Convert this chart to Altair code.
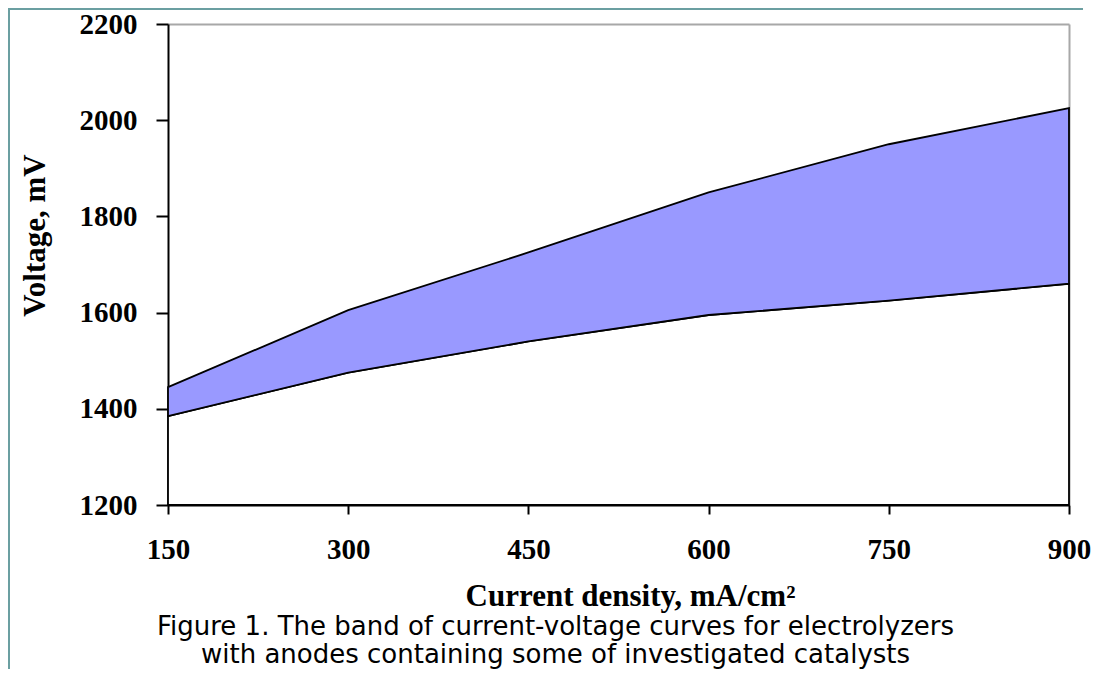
import altair as alt
import pandas as pd

# ---- data ----
current_density = [150, 300, 450, 600, 750, 900]
voltage_upper = [1445, 1605, 1725, 1850, 1950, 2025]
voltage_lower = [1385, 1475, 1540, 1595, 1625, 1660]
x_ticks = [150, 300, 450, 600, 750, 900]
y_ticks = [1200, 1400, 1600, 1800, 2000, 2200]
y_base = 1200

df = pd.DataFrame({
    "cd": current_density,
    "upper": voltage_upper,
    "lower": voltage_lower,
    "base": [y_base] * len(current_density),
})

W, H = 901, 481
SERIF = "Liberation Serif"
x_scale = alt.Scale(domain=[150, 900], nice=False, zero=False)
y_scale = alt.Scale(domain=[1200, 2200], nice=False, zero=False)

x_axis = alt.Axis(
    values=x_ticks, orient="bottom", grid=False, format="d",
    domainColor="black", domainWidth=2, tickColor="black", tickWidth=2, tickSize=9,
    labelFont=SERIF, labelFontWeight="bold", labelFontSize=29, labelColor="black",
    labelPadding=21, labelFlush=False, labelOverlap=False,
    titleFont=SERIF, titleFontWeight="bold", titleFontSize=31, titleColor="black",
    titleX=462, titleY=100, titleBaseline="alphabetic", titleAlign="center",
)
y_axis = alt.Axis(
    values=y_ticks, orient="left", grid=False, format="d",
    domainColor="black", domainWidth=2, tickColor="black", tickWidth=2, tickSize=12,
    labelFont=SERIF, labelFontWeight="bold", labelFontSize=29, labelColor="black",
    labelPadding=19, labelFlush=False, labelOverlap=False,
    titleFont=SERIF, titleFontWeight="bold", titleFontSize=31, titleColor="black",
    titleX=-124, titleY=211, titleAngle=270, titleAlign="center", titleBaseline="alphabetic",
)

base = alt.Chart(df)

lower_area = base.mark_area(color="white", stroke="black", strokeWidth=1.8).encode(
    x=alt.X("cd:Q", scale=x_scale, axis=x_axis, title="Current density, mA/cm²"),
    y=alt.Y("lower:Q", scale=y_scale, axis=y_axis, title="Voltage, mV"),
    y2="base:Q",
)
band = base.mark_area(color="#9999ff", stroke="black", strokeWidth=1.8, opacity=1).encode(
    x=alt.X("cd:Q", scale=x_scale, axis=None),
    y=alt.Y("upper:Q", scale=y_scale, axis=None),
    y2="lower:Q",
)

frame_axis_x = alt.Axis(orient="top", labels=False, ticks=False, grid=False,
                        domainColor="#a8a8a8", domainWidth=2, title=None)
frame_axis_y = alt.Axis(orient="right", labels=False, ticks=False, grid=False,
                        domainColor="#a8a8a8", domainWidth=2, title=None)
frame = base.mark_line(opacity=0).encode(
    x=alt.X("cd:Q", scale=x_scale, axis=frame_axis_x),
    y=alt.Y("upper:Q", scale=y_scale, axis=frame_axis_y),
)

border_data = alt.Data(values=[{"k": 1}])
border_left = alt.Chart(border_data).mark_rule(color="#6b9fa1", strokeWidth=2).encode(
    x=alt.value(-159), y=alt.value(-15), y2=alt.value(645)
)
border_top = alt.Chart(border_data).mark_rule(color="#6b9fa1", strokeWidth=2).encode(
    x=alt.value(-160), x2=alt.value(915), y=alt.value(-15)
)

chart = alt.layer(frame, lower_area, band, border_left, border_top).resolve_axis(
    x="independent", y="independent"
).properties(
    width=W, height=H,
    autosize=alt.AutoSizeParams(type="none"),
    padding={"left": 160, "top": 16, "right": 22, "bottom": 164},
    title=alt.TitleParams(
        text=["Figure 1. The band of current-voltage curves for electrolyzers",
              "with anodes containing some of investigated catalysts"],
        orient="bottom", anchor="middle", frame="group",
        font="DejaVu Sans", fontSize=26, fontWeight="normal", color="black",
        baseline="alphabetic", lineHeight=28, offset=0, dx=-63, dy=-35,
    ),
).configure_view(stroke=None)

chart.save("out.html", embed_options={"renderer": "svg", "actions": False})
